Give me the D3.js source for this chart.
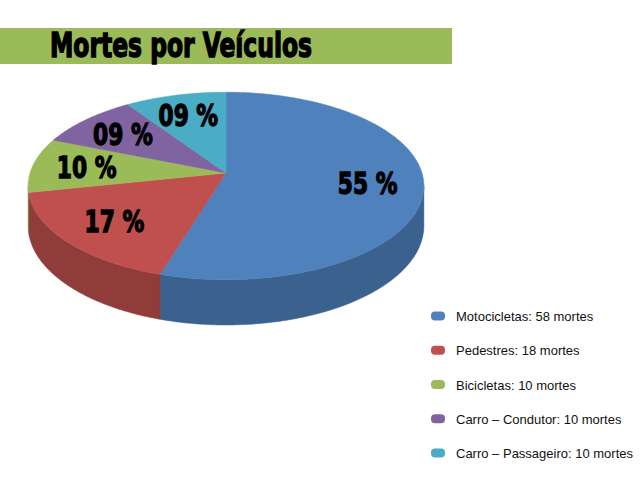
<!DOCTYPE html>
<html lang="pt">
<head>
<meta charset="utf-8">
<title>Mortes por Veículos</title>
<script src="https://d3js.org/d3.v7.min.js"></script>
<style>
  body { margin: 0; background: #fff; }
  .pct { font-family: "Liberation Sans Narrow", "DejaVu Sans Condensed", sans-serif; font-weight: bold; fill: #000; stroke: #000; stroke-width: 1.3px; }
  .title { font-family: "Liberation Sans Narrow", "DejaVu Sans Condensed", sans-serif; font-weight: bold; fill: #000; stroke: #000; stroke-width: 1.4px; }
  .legend-text { font-family: "Liberation Sans", Arial, sans-serif; fill: #111; }
</style>
</head>
<body>
<div id="chart"></div>
<script>
// Data
const categories = ["Motocicletas", "Pedestres", "Bicicletas", "Carro – Condutor", "Carro – Passageiro"];
const deaths = [58, 18, 10, 10, 10];
const pctLabels = ["55 %", "17 %", "10 %", "09 %", "09 %"];
const colors = ["#4f81bd", "#c0504d", "#9bbb59", "#8064a2", "#4bacc6"];

const W = 640, H = 480;
const svg = d3.select("#chart").append("svg")
    .attr("width", W)
    .attr("height", H);

// Title band
svg.append("rect")
    .attr("x", 0).attr("y", 28)
    .attr("width", 452).attr("height", 36)
    .attr("fill", "#9bbb59");

svg.append("text")
    .attr("class", "title")
    .attr("x", 50).attr("y", 57)
    .attr("font-size", 34)
    .attr("textLength", 262)
    .attr("lengthAdjust", "spacingAndGlyphs")
    .text("Mortes por Veículos");

// 3D pie projection (tilted disk seen in perspective)
const cx = 226, cy = 173;
const a = 196, b = 92, k = 0.138, depth = 39;

function proj(theta, r, h) {
    const u = r * Math.sin(theta);
    const v = -r * Math.cos(theta);
    const w = 1 - k * v;
    return [cx + a * u / w, cy + b * v / w + h * depth / w];
}

const pie = d3.pie().sort(null).startAngle(0).endAngle(2 * Math.PI);
const arcs = pie(deaths).map((d, i) => ({ ...d, i }));

// front side visible between the two silhouette points
const thRight = Math.acos(-k), thLeft = 2 * Math.PI - Math.acos(-k);

function sample(t0, t1) {
    const n = Math.max(2, Math.ceil((t1 - t0) / 0.01));
    return d3.range(n + 1).map(j => t0 + (t1 - t0) * j / n);
}

const line = d3.line();

// Sides
const sides = svg.append("g");
arcs.forEach(d => {
    const t0 = Math.max(d.startAngle, thRight);
    const t1 = Math.min(d.endAngle, thLeft);
    if (t1 <= t0) return;
    const ts = sample(t0, t1);
    const pts = ts.map(t => proj(t, 1, 0)).concat(ts.slice().reverse().map(t => proj(t, 1, 1)));
    sides.append("path")
        .attr("d", line(pts) + "Z")
        .attr("fill", d3.color(colors[d.i]).darker(0.8))
        .attr("stroke", d3.color(colors[d.i]).darker(0.8))
        .attr("stroke-width", 0.5);
});

// Tops
const tops = svg.append("g");
arcs.forEach(d => {
    const pts = [proj(0, 0, 0)].concat(sample(d.startAngle, d.endAngle).map(t => proj(t, 1, 0)));
    tops.append("path")
        .attr("d", line(pts) + "Z")
        .attr("fill", colors[d.i])
        .attr("stroke", colors[d.i])
        .attr("stroke-width", 0.5);
});

// Percentage labels
svg.append("g").selectAll("text")
    .data(arcs)
    .join("text")
    .attr("class", "pct")
    .attr("font-size", 31)
    .attr("text-anchor", "middle")
    .attr("transform", d => {
        const p = proj((d.startAngle + d.endAngle) / 2, 0.72, 0);
        return `translate(${p[0]},${p[1] + 11}) scale(0.78,1)`;
    })
    .text(d => pctLabels[d.i]);

// Legend
const ly = d3.scalePoint().domain(categories).range([316, 453]);
const legend = svg.append("g").selectAll("g")
    .data(categories)
    .join("g")
    .attr("transform", d => `translate(0,${ly(d)})`);

legend.append("rect")
    .attr("x", 431).attr("y", -4.5)
    .attr("width", 14).attr("height", 9)
    .attr("rx", 4)
    .attr("fill", (d, i) => colors[i]);

legend.append("text")
    .attr("class", "legend-text")
    .attr("x", 456).attr("y", 5)
    .attr("font-size", 13)
    .text((d, i) => `${d}: ${deaths[i]} mortes`);
</script>
</body>
</html>
